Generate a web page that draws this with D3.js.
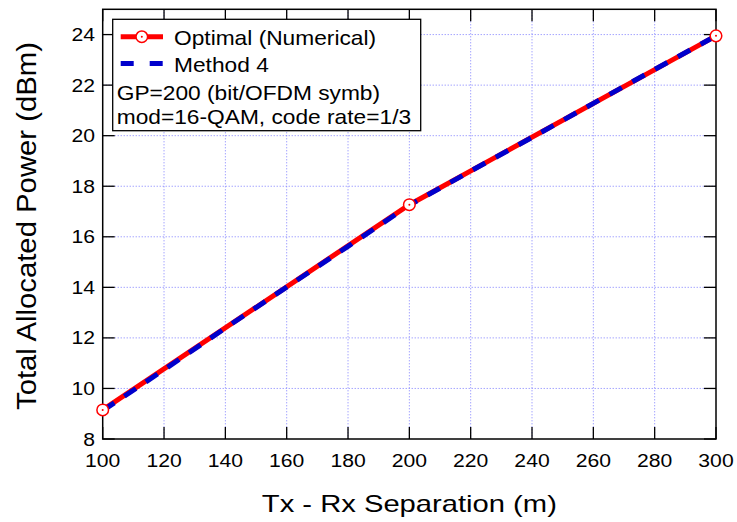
<!DOCTYPE html>
<html>
<head>
<meta charset="utf-8">
<script src="https://cdn.jsdelivr.net/npm/d3@7"></script>
<style>
  body { margin: 0; background: #fff; }
  text { font-family: "Liberation Sans", Arial, sans-serif; fill: #000; }
</style>
</head>
<body>
<div id="chart"></div>
<script>
// data
const distances = [100, 120, 140, 160, 180, 200, 220, 240, 260, 280, 300];
const optimalX = [100, 200, 300];
const optimalPower = [9.15, 17.27, 23.95];
const method4Power = [9.12, 10.74, 12.39, 14.01, 15.62, 17.25, 18.6, 19.93, 21.28, 22.62, 23.95];
const xTicks = [100, 120, 140, 160, 180, 200, 220, 240, 260, 280, 300];
const yTicks = [8, 10, 12, 14, 16, 18, 20, 22, 24];
const legendLines = ['GP=200 (bit/OFDM symb)', 'mod=16-QAM, code rate=1/3'];

const width = 737, height = 522;
const margin = {top: 9.3, right: 21, bottom: 83, left: 102.7};
const stretch = 1.15;

const svg = d3.select('#chart').append('svg')
  .attr('width', width)
  .attr('height', height);

const x = d3.scaleLinear().domain([100, 300]).range([margin.left, width - margin.right]);
const y = d3.scaleLinear().domain([8, 25]).range([height - margin.bottom, margin.top]);

const plotL = x.range()[0], plotR = x.range()[1];
const plotT = y.range()[1], plotB = y.range()[0];
const tickLen = 12;

// grid
const grid = svg.append('g')
  .attr('stroke', '#7c7cff')
  .attr('stroke-width', 1)
  .attr('stroke-dasharray', '1,2');
grid.selectAll('.vg').data(xTicks.slice(1, -1)).enter().append('line')
  .attr('x1', d => x(d)).attr('x2', d => x(d))
  .attr('y1', plotT).attr('y2', plotB);
grid.selectAll('.hg').data(yTicks.slice(1)).enter().append('line')
  .attr('x1', plotL).attr('x2', plotR)
  .attr('y1', d => y(d)).attr('y2', d => y(d));

// ticks on all four sides, pointing inward
const ticks = svg.append('g').attr('stroke', '#000').attr('stroke-width', 1.3);
ticks.selectAll('.bt').data(xTicks).enter().append('line')
  .attr('x1', d => x(d)).attr('x2', d => x(d))
  .attr('y1', plotB).attr('y2', plotB - tickLen);
ticks.selectAll('.tt').data(xTicks).enter().append('line')
  .attr('x1', d => x(d)).attr('x2', d => x(d))
  .attr('y1', plotT).attr('y2', plotT + tickLen);
ticks.selectAll('.lt').data(yTicks).enter().append('line')
  .attr('x1', plotL).attr('x2', plotL + tickLen)
  .attr('y1', d => y(d)).attr('y2', d => y(d));
ticks.selectAll('.rt').data(yTicks).enter().append('line')
  .attr('x1', plotR).attr('x2', plotR - tickLen)
  .attr('y1', d => y(d)).attr('y2', d => y(d));

svg.append('rect')
  .attr('x', plotL).attr('y', plotT)
  .attr('width', plotR - plotL).attr('height', plotB - plotT)
  .attr('fill', 'none').attr('stroke', '#000').attr('stroke-width', 1.5);

// tick labels
svg.selectAll('.xl').data(xTicks).enter().append('text')
  .attr('transform', d => `translate(${x(d)},466.5) scale(${stretch},1)`)
  .attr('text-anchor', 'middle')
  .style('font-size', '18.4px')
  .text(d => d);
svg.selectAll('.yl').data(yTicks).enter().append('text')
  .attr('transform', d => `translate(95,${y(d) + 6.5}) scale(${stretch},1)`)
  .attr('text-anchor', 'end')
  .style('font-size', '18.4px')
  .text(d => d);

// axis titles
svg.append('text')
  .attr('x', (plotL + plotR) / 2).attr('y', 512)
  .attr('text-anchor', 'middle')
  .attr('textLength', 295).attr('lengthAdjust', 'spacingAndGlyphs')
  .style('font-size', '24px')
  .text('Tx - Rx Separation (m)');
svg.append('text')
  .attr('transform', 'translate(36,226) rotate(-90)')
  .attr('text-anchor', 'middle')
  .attr('textLength', 368).attr('lengthAdjust', 'spacingAndGlyphs')
  .style('font-size', '27px')
  .text('Total Allocated Power (dBm)');

// lines
const optimal = optimalX.map((d, i) => ({x: d, y: optimalPower[i]}));
const method4 = distances.map((d, i) => ({x: d, y: method4Power[i]}));
const line = d3.line().x(d => x(d.x)).y(d => y(d.y));

svg.append('path').datum(optimal)
  .attr('d', line)
  .attr('fill', 'none').attr('stroke', '#ff0000').attr('stroke-width', 5);
svg.append('path').datum(method4)
  .attr('d', line)
  .attr('fill', 'none').attr('stroke', '#0000cc').attr('stroke-width', 5)
  .attr('stroke-dasharray', '14,12');

const markers = svg.selectAll('.mk').data(optimal).enter().append('g')
  .attr('transform', d => `translate(${x(d.x)},${y(d.y)})`);
markers.append('circle').attr('r', 5.8)
  .attr('fill', '#fff').attr('stroke', '#ff0000').attr('stroke-width', 1.5);
markers.append('circle').attr('r', 1).attr('fill', '#ff0000');

// legend
const lg = svg.append('g');
lg.append('rect')
  .attr('x', 112.7).attr('y', 19.3).attr('width', 308).attr('height', 111.4)
  .attr('fill', '#fff').attr('stroke', '#000').attr('stroke-width', 1.3);
lg.append('line')
  .attr('x1', 120.7).attr('x2', 163).attr('y1', 36.7).attr('y2', 36.7)
  .attr('stroke', '#ff0000').attr('stroke-width', 5);
lg.append('circle').attr('cx', 141.8).attr('cy', 36.7).attr('r', 5.8)
  .attr('fill', '#fff').attr('stroke', '#ff0000').attr('stroke-width', 1.5);
lg.append('circle').attr('cx', 141.8).attr('cy', 36.7).attr('r', 1).attr('fill', '#ff0000');
lg.append('line')
  .attr('x1', 120.7).attr('x2', 163).attr('y1', 63.5).attr('y2', 63.5)
  .attr('stroke', '#0000cc').attr('stroke-width', 5)
  .attr('stroke-dasharray', '13,16');

const legendTexts = [
  {t: 'Optimal (Numerical)', x: 174, y: 44.5},
  {t: 'Method 4', x: 174, y: 71.6},
  {t: legendLines[0], x: 116.7, y: 99.5},
  {t: legendLines[1], x: 116.7, y: 123.5}
];
lg.selectAll('.lt').data(legendTexts).enter().append('text')
  .attr('transform', d => `translate(${d.x},${d.y}) scale(1.12,1)`)
  .style('font-size', '20.3px')
  .text(d => d.t);
</script>
</body>
</html>
